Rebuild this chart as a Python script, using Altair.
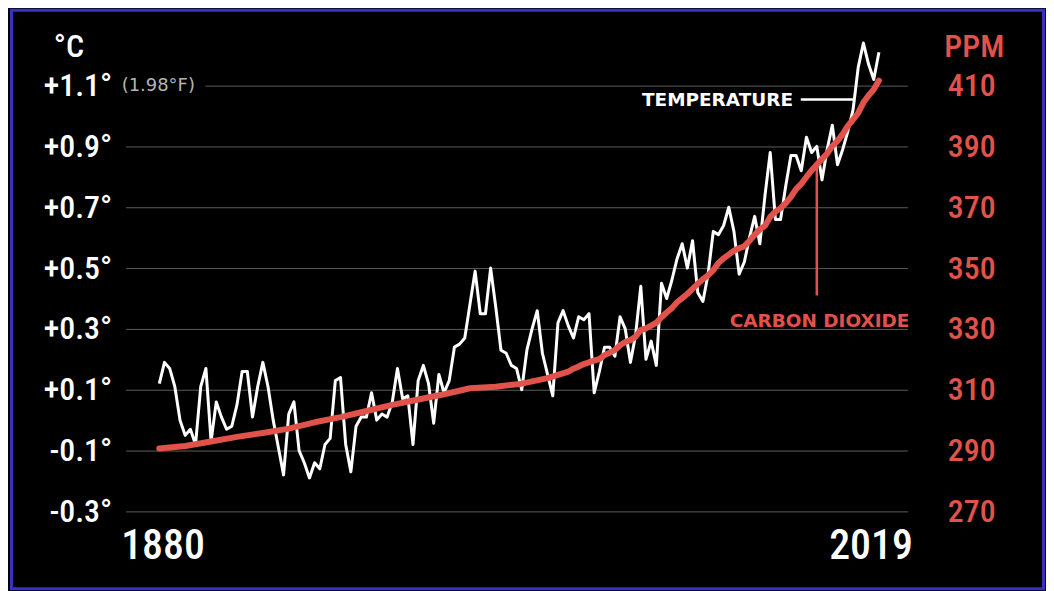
import altair as alt
import pandas as pd

# ---------------- data ----------------
temp_years = list(range(1880, 2020))
temp_values = [
    0.12, 0.19, 0.17, 0.11, 0.00, -0.05, -0.03, -0.08, 0.11, 0.17,   # 1880s
    -0.07, 0.06, 0.01, -0.03, -0.02, 0.05, 0.16, 0.16, 0.01, 0.11,   # 1890s
    0.19, 0.11, 0.00, -0.09, -0.18, 0.02, 0.06, -0.10, -0.14, -0.19, # 1900s
    -0.14, -0.16, -0.08, -0.06, 0.13, 0.14, -0.08, -0.17, -0.02, 0.01, # 1910s
    0.01, 0.09, 0.00, 0.02, 0.01, 0.06, 0.17, 0.07, 0.08, -0.08,     # 1920s
    0.13, 0.18, 0.12, -0.01, 0.15, 0.09, 0.13, 0.24, 0.25, 0.27,     # 1930s
    0.38, 0.49, 0.35, 0.35, 0.50, 0.37, 0.23, 0.22, 0.18, 0.17,      # 1940s
    0.10, 0.23, 0.30, 0.36, 0.22, 0.15, 0.08, 0.32, 0.36, 0.31,      # 1950s
    0.27, 0.34, 0.33, 0.35, 0.09, 0.16, 0.24, 0.24, 0.21, 0.34,      # 1960s
    0.30, 0.19, 0.28, 0.44, 0.20, 0.26, 0.18, 0.45, 0.40, 0.46,      # 1970s
    0.53, 0.58, 0.50, 0.59, 0.42, 0.39, 0.48, 0.62, 0.61, 0.64,      # 1980s
    0.70, 0.62, 0.48, 0.52, 0.60, 0.67, 0.58, 0.74, 0.88, 0.66,      # 1990s
    0.66, 0.77, 0.87, 0.87, 0.82, 0.93, 0.88, 0.90, 0.79, 0.89,      # 2000s
    0.97, 0.84, 0.89, 0.95, 1.02, 1.16, 1.24, 1.17, 1.12, 1.21,      # 2010s
]

co2_years = [1880, 1885, 1890, 1895, 1900, 1905, 1910, 1915, 1920, 1925,
             1930, 1935, 1940, 1945, 1950, 1955] + list(range(1959, 2020))
co2_values = [
    290.7, 291.5, 293.0, 294.5, 295.8, 297.2, 299.3, 301.0, 303.0, 305.0,
    306.8, 308.5, 310.5, 311.0, 312.0, 313.8,
    315.98, 316.91, 317.64, 318.45, 318.99, 319.62, 320.04, 321.37, 322.18, 323.05,
    324.62, 325.68, 326.32, 327.46, 329.68, 330.19, 331.12, 332.03, 333.84, 335.41,
    336.84, 338.76, 340.12, 341.48, 343.15, 344.85, 346.35, 347.61, 349.31, 351.69,
    353.20, 354.45, 355.70, 356.54, 357.21, 358.96, 360.97, 362.74, 363.88, 366.84,
    368.54, 369.71, 371.32, 373.45, 375.98, 377.70, 379.98, 382.09, 384.02, 385.83,
    387.64, 390.10, 391.85, 394.06, 396.74, 398.81, 401.01, 404.41, 406.76, 408.72,
    411.66,
]

temp_ticks = [-0.3, -0.1, 0.1, 0.3, 0.5, 0.7, 0.9, 1.1]
ppm_ticks = [270, 290, 310, 330, 350, 370, 390, 410]
year_labels = ["1880", "2019"]

# ---------------- style ----------------
RED = "#e1524b"
COND = "'Roboto Condensed', 'Roboto', sans-serif"
SANS = "'DejaVu Sans', sans-serif"
W, H = 784, 488
TICK_FS = 32

temp_df = pd.DataFrame({"year": temp_years, "temp": temp_values})
co2_df = pd.DataFrame({"year": co2_years, "ppm": co2_values})

x_scale = alt.Scale(domain=[1873.5, 2024.5], nice=False, zero=False)
y_scale = alt.Scale(domain=[-0.3, 1.3], nice=False, zero=False)
ppm_scale = alt.Scale(domain=[270, 430], nice=False, zero=False)

x_axis = alt.Axis(
    values=[1873.5, 2024.5],
    labelExpr=f"datum.value < 1950 ? '{year_labels[0]}' : '{year_labels[1]}'",
    labelFlush=True, labelFlushOffset=5, ticks=False, domain=False, grid=False,
    labelFont=COND, labelFontSize=42, labelFontWeight=500, labelColor="white",
    labelPadding=34, labelBaseline="middle",
)

temp_axis = alt.Axis(
    values=temp_ticks,
    labelExpr="(datum.value > 0 ? '+' : '-') + format(abs(datum.value), '.1f') + '°'",
    grid=True, gridColor="#5c5c5c", gridWidth=1,
    ticks=False, domain=False, labelPadding=14,
    labelFont=COND, labelFontSize=TICK_FS, labelFontWeight=500, labelColor="white",
)

ppm_axis = alt.Axis(
    orient="right", values=ppm_ticks, grid=False, ticks=False, domain=False,
    labelPadding=40, labelFont=COND, labelFontSize=TICK_FS, labelFontWeight=500,
    labelColor=RED, labelAlign="left",
)

X = alt.X("year:Q", scale=x_scale, axis=x_axis, title=None)
Y = alt.Y("temp:Q", scale=y_scale, axis=temp_axis, title=None)

one = pd.DataFrame({"a": [0]})

temp_line = alt.Chart(temp_df).mark_line(
    color="white", strokeWidth=3, strokeJoin="round"
).encode(x=X, y=Y)

# black patch hiding the gridline behind the Fahrenheit note
patch = alt.Chart(one).mark_rect(color="black").encode(
    x=alt.value(0), x2=alt.value(80), y=alt.value(55), y2=alt.value(67)
)

deg_c = alt.Chart(one).mark_text(
    text="°C", align="left", baseline="middle", font=COND, fontSize=TICK_FS,
    fontWeight=500, color="white"
).encode(x=alt.value(-72), y=alt.value(22))

ppm_title = alt.Chart(one).mark_text(
    text="PPM", align="left", baseline="middle", font=COND, fontSize=TICK_FS,
    fontWeight=500, color=RED
).encode(x=alt.value(821), y=alt.value(22))

fahr = alt.Chart(one).mark_text(
    text="(1.98°F)", align="left", baseline="middle", font=SANS, fontSize=18,
    color="#b4b4b4"
).encode(x=alt.value(-4), y=alt.value(61))

ann_df = pd.DataFrame({
    "label": ["TEMPERATURE", "CARBON DIOXIDE"],
    "year": [2002.4, 2024.9],
    "temp": [1.054, 0.326],
    "color": ["white", RED],
})

ann_text = alt.Chart(ann_df).mark_text(
    align="right", baseline="middle", font=SANS, fontSize=18.5, fontWeight="bold"
).encode(
    x=X, y=Y,
    text="label:N",
    color=alt.Color("color:N", scale=None, legend=None),
)

temp_conn = alt.Chart(pd.DataFrame({"year": [2003.9], "year2": [2014.2], "temp": [1.054]})).mark_rule(
    color="white", strokeWidth=2.5
).encode(x=X, x2="year2:Q", y=Y)

co2_conn = alt.Chart(pd.DataFrame({"year": [2007.0], "temp": [0.84], "temp2": [0.41]})).mark_rule(
    color=RED, strokeWidth=2.5
).encode(x=X, y=Y, y2="temp2:Q")

border = alt.Chart(one).mark_rect(
    fillOpacity=0, stroke="#3a30c4", strokeWidth=3
).encode(x=alt.value(-114.5), x2=alt.value(920.5), y=alt.value(-14.5), y2=alt.value(565.5))

co2_line = alt.Chart(co2_df).mark_line(
    color=RED, strokeWidth=6, strokeCap="round", strokeJoin="round"
).encode(
    x=X,
    y=alt.Y("ppm:Q", scale=ppm_scale, axis=ppm_axis, title=None),
)

left = alt.layer(temp_line, patch, deg_c, ppm_title, fahr, temp_conn, co2_conn, ann_text, border)

chart = alt.layer(left, co2_line).resolve_scale(y="independent").properties(
    width=W, height=H, background="black",
    autosize=alt.AutoSizeParams(type="none"),
    padding={"left": 118, "top": 16, "right": 139, "bottom": 79},
).configure_view(strokeWidth=0)

chart.save("out.html", embed_options={"renderer": "svg", "actions": False})
